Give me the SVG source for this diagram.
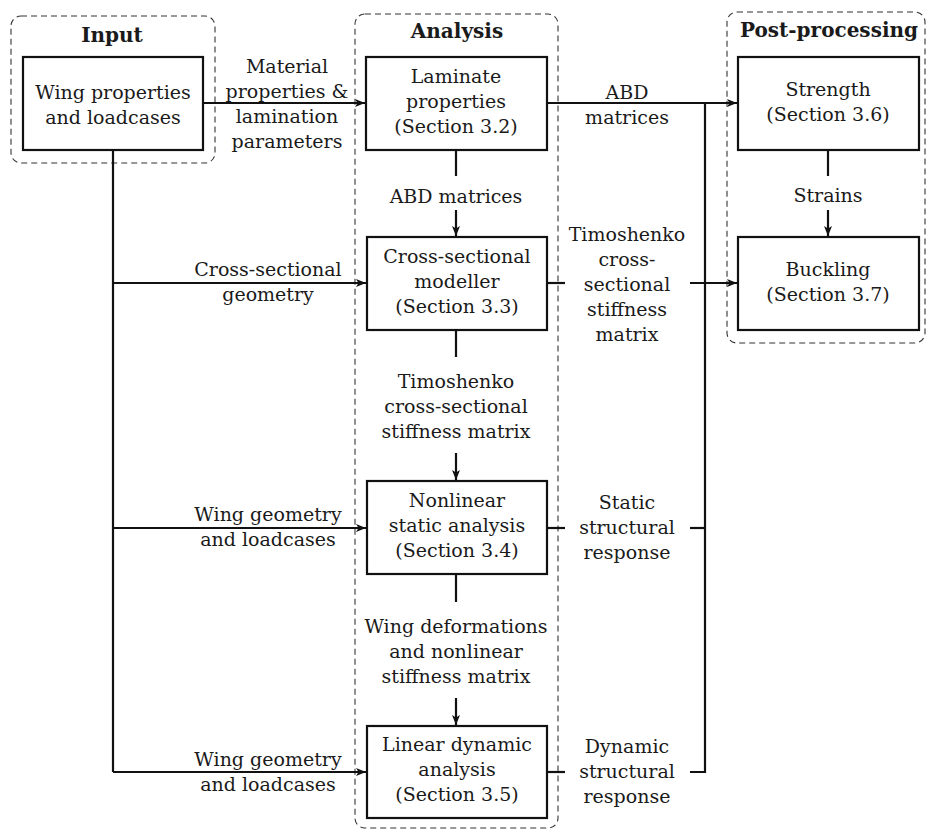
<svg xmlns="http://www.w3.org/2000/svg" width="927" height="829" viewBox="0 0 927 829">
<style>
text{font-family:"DejaVu Serif",serif;font-size:19px;fill:#1a1a1a;text-anchor:middle}
.b{font-weight:bold;font-size:20px}
.box{fill:#fff;stroke:#111;stroke-width:2.2}
.grp{fill:none;stroke:#333;stroke-width:1.1;stroke-dasharray:6 4}
.ln{fill:none;stroke:#111;stroke-width:2.2}
.ar{marker-end:url(#ah)}
</style>
<defs>
<marker id="ah" markerUnits="userSpaceOnUse" markerWidth="11" markerHeight="9" refX="10" refY="4.5" orient="auto">
<path d="M0,0.5 L10,4.5 L0,8.5 L2.5,4.5 Z" fill="#111"/>
</marker>
</defs>
<rect width="927" height="829" fill="#fff"/>

<g id="groups">
<rect class="grp" x="11" y="16" width="204" height="147" rx="10"/>
<rect class="grp" x="355" y="14" width="203" height="814" rx="10"/>
<rect class="grp" x="727" y="12" width="198" height="331" rx="10"/>
<text class="b" x="112" y="42">Input</text>
<text class="b" x="457" y="38">Analysis</text>
<text class="b" x="829" y="37">Post-processing</text>
</g>

<g id="connectors">
<path class="ln ar" d="M203,103 H365"/>
<path class="ln ar" d="M547,103 H737"/>
<path class="ln" d="M705,103 V772 H690"/>
<path class="ln" d="M690,528 H705"/>
<path class="ln" d="M547,528 H565"/>
<path class="ln" d="M547,772 H565"/>
<path class="ln" d="M547,283 H565"/>
<path class="ln ar" d="M690,283 H737"/>
<path class="ln" d="M113,150 V772"/>
<path class="ln ar" d="M113,283 H366"/>
<path class="ln ar" d="M113,528 H366"/>
<path class="ln ar" d="M113,772 H366"/>
<path class="ln" d="M456,150 V176"/>
<path class="ln ar" d="M456,210 V236"/>
<path class="ln" d="M456,330 V357"/>
<path class="ln ar" d="M456,453 V480"/>
<path class="ln" d="M456,574 V602"/>
<path class="ln ar" d="M456,698 V725"/>
<path class="ln" d="M828,150 V176"/>
<path class="ln ar" d="M828,210 V236"/>
</g>

<g id="edge-labels">
<text x="287" y="73">Material</text>
<text x="287" y="98">properties &amp;</text>
<text x="287" y="123">lamination</text>
<text x="287" y="148">parameters</text>
<text x="627" y="99">ABD</text>
<text x="627" y="124">matrices</text>
<text x="456" y="203">ABD matrices</text>
<text x="828" y="202">Strains</text>
<text x="268" y="276">Cross-sectional</text>
<text x="268" y="301">geometry</text>
<text x="627" y="241">Timoshenko</text>
<text x="627" y="266">cross-</text>
<text x="627" y="291">sectional</text>
<text x="627" y="316">stiffness</text>
<text x="627" y="341">matrix</text>
<text x="456" y="388">Timoshenko</text>
<text x="456" y="413">cross-sectional</text>
<text x="456" y="438">stiffness matrix</text>
<text x="268" y="521">Wing geometry</text>
<text x="268" y="546">and loadcases</text>
<text x="627" y="509">Static</text>
<text x="627" y="534">structural</text>
<text x="627" y="559">response</text>
<text x="456" y="633">Wing deformations</text>
<text x="456" y="658">and nonlinear</text>
<text x="456" y="683">stiffness matrix</text>
<text x="268" y="766">Wing geometry</text>
<text x="268" y="791">and loadcases</text>
<text x="627" y="753">Dynamic</text>
<text x="627" y="778">structural</text>
<text x="627" y="803">response</text>
</g>

<g id="wing-properties">
<rect class="box" x="23" y="57" width="180" height="93"/>
<text x="113" y="99">Wing properties</text>
<text x="113" y="124">and loadcases</text>
</g>

<g id="laminate">
<rect class="box" x="366" y="57" width="181" height="93"/>
<text x="456" y="83">Laminate</text>
<text x="456" y="108">properties</text>
<text x="456" y="133">(Section 3.2)</text>
</g>

<g id="cross-sectional">
<rect class="box" x="367" y="237" width="180" height="93"/>
<text x="457" y="263">Cross-sectional</text>
<text x="457" y="288">modeller</text>
<text x="457" y="313">(Section 3.3)</text>
</g>

<g id="nonlinear">
<rect class="box" x="367" y="481" width="180" height="93"/>
<text x="457" y="507">Nonlinear</text>
<text x="457" y="532">static analysis</text>
<text x="457" y="557">(Section 3.4)</text>
</g>

<g id="linear">
<rect class="box" x="367" y="726" width="180" height="92"/>
<text x="457" y="751">Linear dynamic</text>
<text x="457" y="776">analysis</text>
<text x="457" y="801">(Section 3.5)</text>
</g>

<g id="strength">
<rect class="box" x="738" y="57" width="181" height="93"/>
<text x="828" y="96">Strength</text>
<text x="828" y="121">(Section 3.6)</text>
</g>

<g id="buckling">
<rect class="box" x="738" y="237" width="181" height="93"/>
<text x="828" y="276">Buckling</text>
<text x="828" y="301">(Section 3.7)</text>
</g>
</svg>
